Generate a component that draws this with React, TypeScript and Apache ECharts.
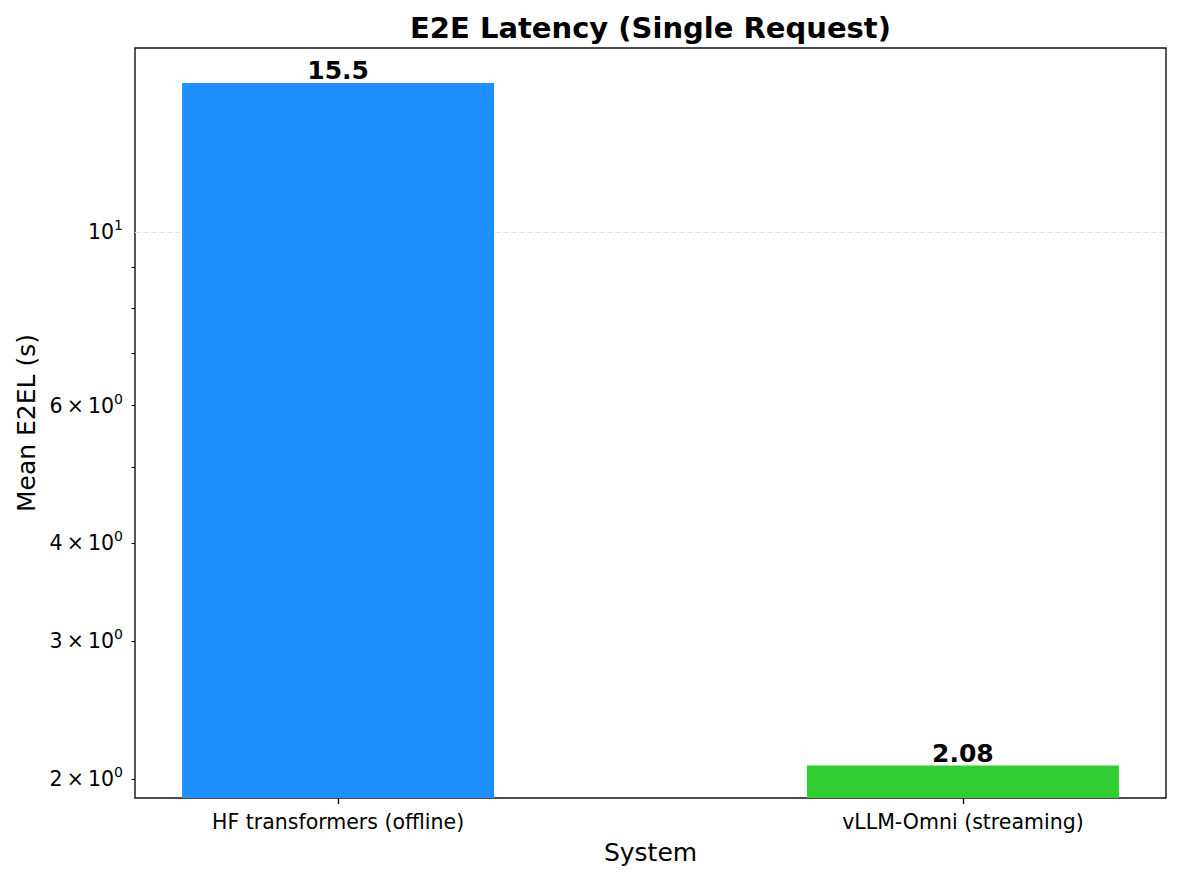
import React, { useEffect, useRef } from "react";
import * as echarts from "echarts";

const categories = ["HF transformers (offline)", "vLLM-Omni (streaming)"];
const values = [15.5, 2.08];
const barColors = ["#1E90FF", "#32CD32"];
const labeledTicks = [2, 3, 4, 6, 10];
const majorTicks = [10];
const minorTicks = [2, 3, 4, 5, 6, 7, 8, 9];
const positions = [0, 1];

const FONT = "DejaVu Sans";

export default function App() {
  const ref = useRef<HTMLDivElement>(null);
  useEffect(() => {
    document.body.style.margin = "0";
    const chart = echarts.init(ref.current!, null, { renderer: "svg" });
    const yMin = 1.891;
    const yMax = 17.18;
    const fmtY = (v: number) => {
      if (Math.abs(v - 10) < 1e-9) return "{b|10}{s|1}";
      return `{b|${Math.round(v)}\u2009×\u200910}{s|0}`;
    };
    const rich = {
      b: { fontSize: 20.5, fontFamily: FONT, color: "#000" },
      s: { fontSize: 14, fontFamily: FONT, color: "#000", padding: [0, 0, 14, 0] },
    };
    chart.setOption({
      animation: false,
      graphic: [
        {
          type: "text",
          x: 650.5,
          y: 28,
          style: {
            text: "E2E Latency (Single Request)",
            fontSize: 29,
            fontWeight: "bold",
            fontFamily: FONT,
            fill: "#000",
            textAlign: "center",
            textVerticalAlign: "middle",
          },
        },
      ],
      grid: {
        left: 135,
        right: 15,
        top: 48,
        bottom: 82,
        show: true,
        borderColor: "#111",
        borderWidth: 1.4,
        backgroundColor: "transparent",
      },
      xAxis: {
        type: "value",
        min: -0.325,
        max: 1.325,
        name: "System",
        nameLocation: "middle",
        nameGap: 42,
        nameTextStyle: { fontSize: 25, fontFamily: FONT, color: "#000" },
        axisLine: { show: false },
        splitLine: { show: false },
        axisTick: {
          show: true,
          customValues: positions,
          length: 6,
          lineStyle: { color: "#111", width: 1.4 },
        },
        axisLabel: {
          customValues: positions,
          formatter: (v: number) => categories[Math.round(v)],
          fontSize: 20.5,
          fontFamily: FONT,
          color: "#000",
          margin: 13,
        },
      },
      yAxis: [
        {
          type: "log",
          logBase: 10,
          min: yMin,
          max: yMax,
          position: "left",
          name: "Mean E2EL (s)",
          nameLocation: "middle",
          nameGap: 95,
          nameTextStyle: { fontSize: 25, fontFamily: FONT, color: "#000" },
          axisLine: { show: false },
          axisTick: {
            show: true,
            customValues: majorTicks,
            length: 7,
            lineStyle: { color: "#111", width: 1.4 },
          },
          axisLabel: {
            customValues: labeledTicks,
            formatter: fmtY,
            rich,
            margin: 12,
          },
          splitLine: {
            show: true,
            lineStyle: { color: "#e3e3e3", type: [5, 3], width: 1 },
          },
          minorTick: { show: false },
        },
        {
          type: "log",
          logBase: 10,
          min: yMin,
          max: yMax,
          position: "left",
          offset: 0,
          axisLine: { show: false },
          axisTick: {
            show: true,
            customValues: minorTicks,
            length: 3.5,
            lineStyle: { color: "#111", width: 1.1 },
          },
          axisLabel: { show: false },
          splitLine: { show: false },
        },
      ],
      series: [
        {
          type: "bar",
          yAxisIndex: 0,
          barWidth: 312,
          clip: true,
          data: values.map((v, i) => ({
            value: [positions[i], v],
            itemStyle: { color: barColors[i] },
          })),
          label: {
            show: true,
            position: "top",
            distance: 0,
            formatter: (p: any) => String(p.value[1]),
            fontSize: 25,
            fontWeight: "bold",
            fontFamily: FONT,
            color: "#000",
          },
        },
      ],
    });
    return () => chart.dispose();
  }, []);
  return <div ref={ref} style={{ width: 1181, height: 880 }} />;
}
